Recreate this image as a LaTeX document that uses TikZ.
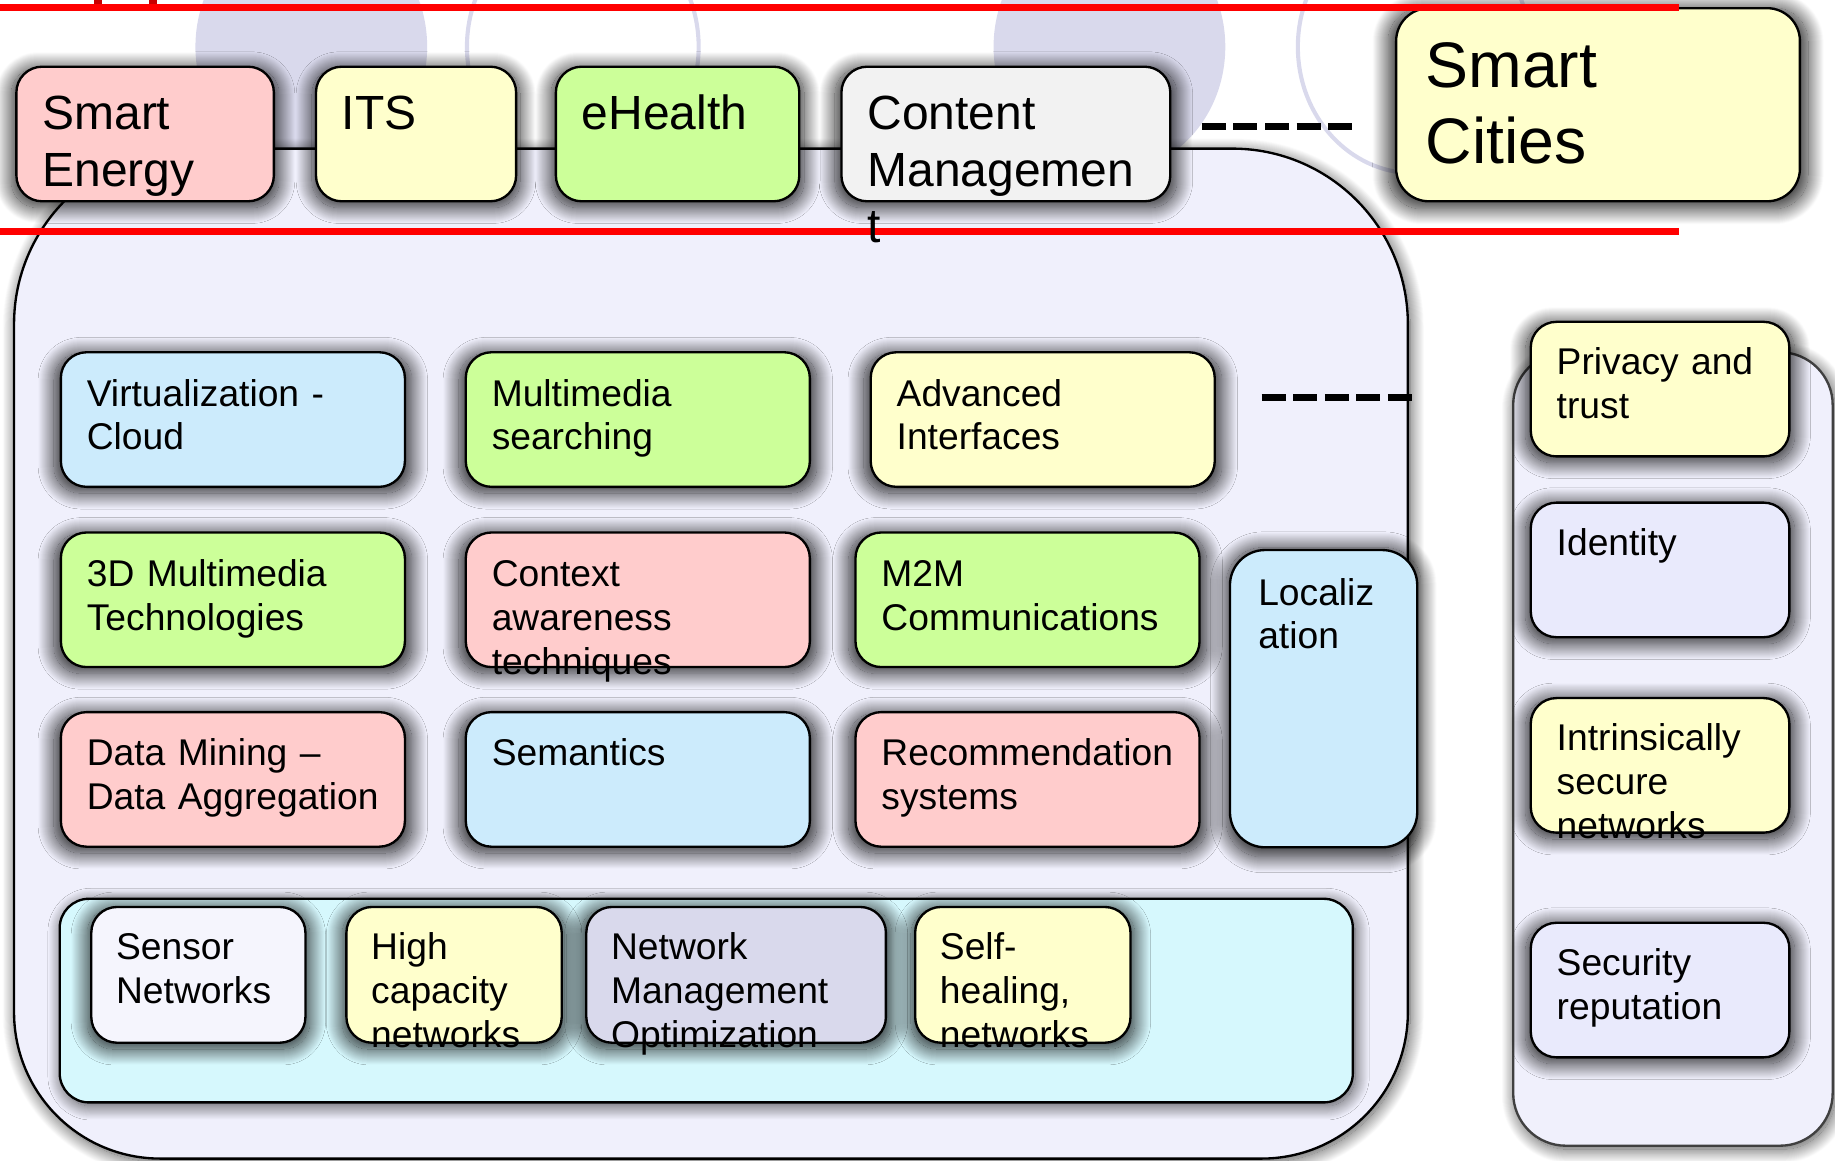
\documentclass[tikz,border=0pt]{standalone}
\usepackage{fontspec}
\setmainfont{Liberation Sans}
\usetikzlibrary{shadows.blur}
\definecolor{cpink}{HTML}{FFCCCC}
\definecolor{cyellow}{HTML}{FFFFCC}
\definecolor{cgreen}{HTML}{CCFF99}
\definecolor{cgray}{HTML}{F2F2F2}
\definecolor{cblue}{HTML}{CCEBFC}
\definecolor{clav}{HTML}{D9D9EC}
\definecolor{clavlt}{HTML}{E9EAFC}
\definecolor{cwhite}{HTML}{F5F5FD}
\definecolor{ccont}{HTML}{F0F0FC}
\definecolor{ccyan}{HTML}{D6F8FD}
\definecolor{ccirc}{HTML}{D9D9EC}
\definecolor{cred}{HTML}{FF0000}
\definecolor{cdred}{HTML}{C80000}
\tikzset{
  shad/.style={blur shadow={shadow xshift=0pt, shadow yshift=-3pt, shadow blur radius=13pt, shadow blur steps=32, shadow opacity=85, shadow scale=1.04}},
  bigshad/.style={blur shadow={shadow xshift=2pt, shadow yshift=-3pt, shadow blur radius=12pt, shadow blur steps=30, shadow opacity=70}},
  box/.style={draw=black, line width=2pt, rounded corners=22pt, inner sep=0pt, shad, fill=#1},
  cont/.style={draw=black, line width=2pt, inner sep=0pt, bigshad, fill=#1},
  txt/.style={anchor=base west, inner sep=0pt, align=left, text width=600pt, text=black},
  tmid/.style={txt, font=\fontsize{31.8}{37.5}\selectfont},
  ttop/.style={txt, font=\fontsize{41}{48}\selectfont},
  tcity/.style={txt, font=\fontsize{55}{65}\selectfont},
  dashln/.style={draw=black, line width=6.5pt, dash pattern=on 20.5pt off 6.5pt},
  redln/.style={draw=cred, line width=6pt},
  tickln/.style={draw=cdred, line width=7pt},
  circfill/.style={fill=ccirc},
  circline/.style={draw=ccirc, line width=3.5pt},
}
\begin{document}
\begin{tikzpicture}[x=1pt,y=-1pt]
\useasboundingbox (0,0) rectangle (1568,992);
% background circles
\path[circfill] (266,40) ellipse [x radius=99pt, y radius=108pt];
\path[circline] (498,40) ellipse [x radius=99pt, y radius=108pt];
\path[circfill] (948,40) ellipse [x radius=99pt, y radius=108pt];
\path[circline] (1208,40) ellipse [x radius=99pt, y radius=108pt];
% big container
\path[cont=ccont]
  (12,560) [rounded corners=150pt] |- (600,127) -| (1203,560) [rounded corners=125pt] |- (600,990) -| (12,560) [sharp corners] -- cycle;
% right container
\node[cont=ccont, draw=black!75, rounded corners=45pt, minimum width=273pt, minimum height=678pt] (rc) at (1429.5,640) {};
% bottom container
\node[cont=ccyan, rounded corners=25pt, minimum width=1105pt, minimum height=174pt] (bc) at (603.5,855) {};
% top row
\node[box=cpink, minimum width=220pt, minimum height=115pt] (se) at (124,114.5) {};
\node[box=cyellow, minimum width=171pt, minimum height=115pt] (its) at (355.5,114.5) {};
\node[box=cgreen, minimum width=208pt, minimum height=115pt] (eh) at (579,114.5) {};
\node[box=cgray, minimum width=281pt, minimum height=115pt] (cm) at (859.5,114.5) {};
\node[box=cyellow, rounded corners=28pt, minimum width=345pt, minimum height=165pt] (sc) at (1365.5,89.5) {};
% middle grid
\node[box=cblue, minimum width=294pt, minimum height=115pt] (vc) at (199,358.5) {};
\node[box=cgreen, minimum width=294pt, minimum height=115pt] (ms) at (545,358.5) {};
\node[box=cyellow, minimum width=294pt, minimum height=115pt] (ai) at (891,358.5) {};
\node[box=cgreen, minimum width=294pt, minimum height=115pt] (tdm) at (199,512.5) {};
\node[box=cpink, minimum width=294pt, minimum height=115pt] (ca) at (545,512.5) {};
\node[box=cgreen, minimum width=294pt, minimum height=115pt] (mm) at (878,512.5) {};
\node[box=cpink, minimum width=294pt, minimum height=115pt] (dm) at (199,666) {};
\node[box=cblue, minimum width=294pt, minimum height=115pt] (sem) at (545,666) {};
\node[box=cpink, minimum width=294pt, minimum height=115pt] (rs) at (878,666) {};
\node[box=cblue, rounded corners=30pt, minimum width=160pt, minimum height=254pt] (loc) at (1131,597) {};
% bottom boxes
\node[box=cwhite, minimum width=183pt, minimum height=116pt] (sn) at (169.5,833) {};
\node[box=cyellow, minimum width=184pt, minimum height=116pt] (hc) at (388,833) {};
\node[box=clav, minimum width=256pt, minimum height=116pt] (nm) at (629,833) {};
\node[box=cyellow, minimum width=184pt, minimum height=116pt] (shn) at (874,833) {};
% right column
\node[box=cyellow, minimum width=221pt, minimum height=115pt] (pt) at (1418.5,332.5) {};
\node[box=clavlt, minimum width=221pt, minimum height=115pt] (idn) at (1418.5,487) {};
\node[box=cyellow, minimum width=221pt, minimum height=115pt] (isn) at (1418.5,654) {};
\node[box=clavlt, minimum width=221pt, minimum height=115pt] (sr) at (1418.5,846) {};
% dashed lines
\coordinate (d1a) at (1027,108);
\coordinate (d1b) at (1156,108);
\coordinate (d2a) at (1078,339.5);
\coordinate (d2b) at (1207,339.5);
\draw[dashln] (d1a) -- (d1b);
\draw[dashln] (d2a) -- (d2b);
% red lines
\coordinate (r1a) at (0,6);
\coordinate (r1b) at (1435,6);
\coordinate (r2a) at (0,198);
\coordinate (r2b) at (1435,198);
\coordinate (t1a) at (83.5,0);
\coordinate (t1b) at (83.5,6);
\coordinate (t2a) at (131,0);
\coordinate (t2b) at (131,6);
\draw[tickln] (t1a) -- (t1b);
\draw[tickln] (t2a) -- (t2b);
\draw[redln] (r1a) -- (r1b);
\draw[redln] (r2a) -- (r2b);
% texts
\node[ttop] (set) at ([xshift=23pt,yshift=-55pt]se.north west) {Smart\\Energy};
\node[ttop] (itst) at ([xshift=23pt,yshift=-55pt]its.north west) {ITS};
\node[ttop] (eht) at ([xshift=23pt,yshift=-55pt]eh.north west) {eHealth};
\node[ttop] (cmt) at ([xshift=23pt,yshift=-55pt]cm.north west) {Content\\Managemen\\t};
\node[tcity] (sct) at ([xshift=26pt,yshift=-69pt]sc.north west) {Smart\\Cities};
\node[tmid] (vct) at ([xshift=23pt,yshift=-47pt]vc.north west) {Virtualization -\\Cloud};
\node[tmid] (mst) at ([xshift=23pt,yshift=-47pt]ms.north west) {Multimedia\\searching};
\node[tmid] (ait) at ([xshift=23pt,yshift=-47pt]ai.north west) {Advanced\\Interfaces};
\node[tmid] (tdmt) at ([xshift=23pt,yshift=-47pt]tdm.north west) {3D Multimedia\\Technologies};
\node[tmid] (cat) at ([xshift=23pt,yshift=-47pt]ca.north west) {Context\\awareness\\techniques};
\node[tmid] (mmt) at ([xshift=23pt,yshift=-47pt]mm.north west) {M2M\\Communications};
\node[tmid] (dmt) at ([xshift=23pt,yshift=-47pt]dm.north west) {Data Mining –\\Data Aggregation};
\node[tmid] (semt) at ([xshift=23pt,yshift=-47pt]sem.north west) {Semantics};
\node[tmid] (rst) at ([xshift=23pt,yshift=-47pt]rs.north west) {Recommendation\\systems};
\node[tmid] (loct) at ([xshift=25pt,yshift=-48pt]loc.north west) {Localiz\\ation};
\node[tmid] (snt) at ([xshift=22pt,yshift=-46pt]sn.north west) {Sensor\\Networks};
\node[tmid] (hct) at ([xshift=22pt,yshift=-46pt]hc.north west) {High\\capacity\\networks};
\node[tmid] (nmt) at ([xshift=22pt,yshift=-46pt]nm.north west) {Network\\Management\\Optimization};
\node[tmid] (shnt) at ([xshift=22pt,yshift=-46pt]shn.north west) {Self-\\healing,\\networks};
\node[tmid] (ptt) at ([xshift=23pt,yshift=-46pt]pt.north west) {Privacy and\\trust};
\node[tmid] (idnt) at ([xshift=23pt,yshift=-46pt]idn.north west) {Identity};
\node[tmid] (isnt) at ([xshift=23pt,yshift=-46pt]isn.north west) {Intrinsically\\secure\\networks};
\node[tmid] (srt) at ([xshift=23pt,yshift=-46pt]sr.north west) {Security\\reputation};
\end{tikzpicture}
\end{document}
